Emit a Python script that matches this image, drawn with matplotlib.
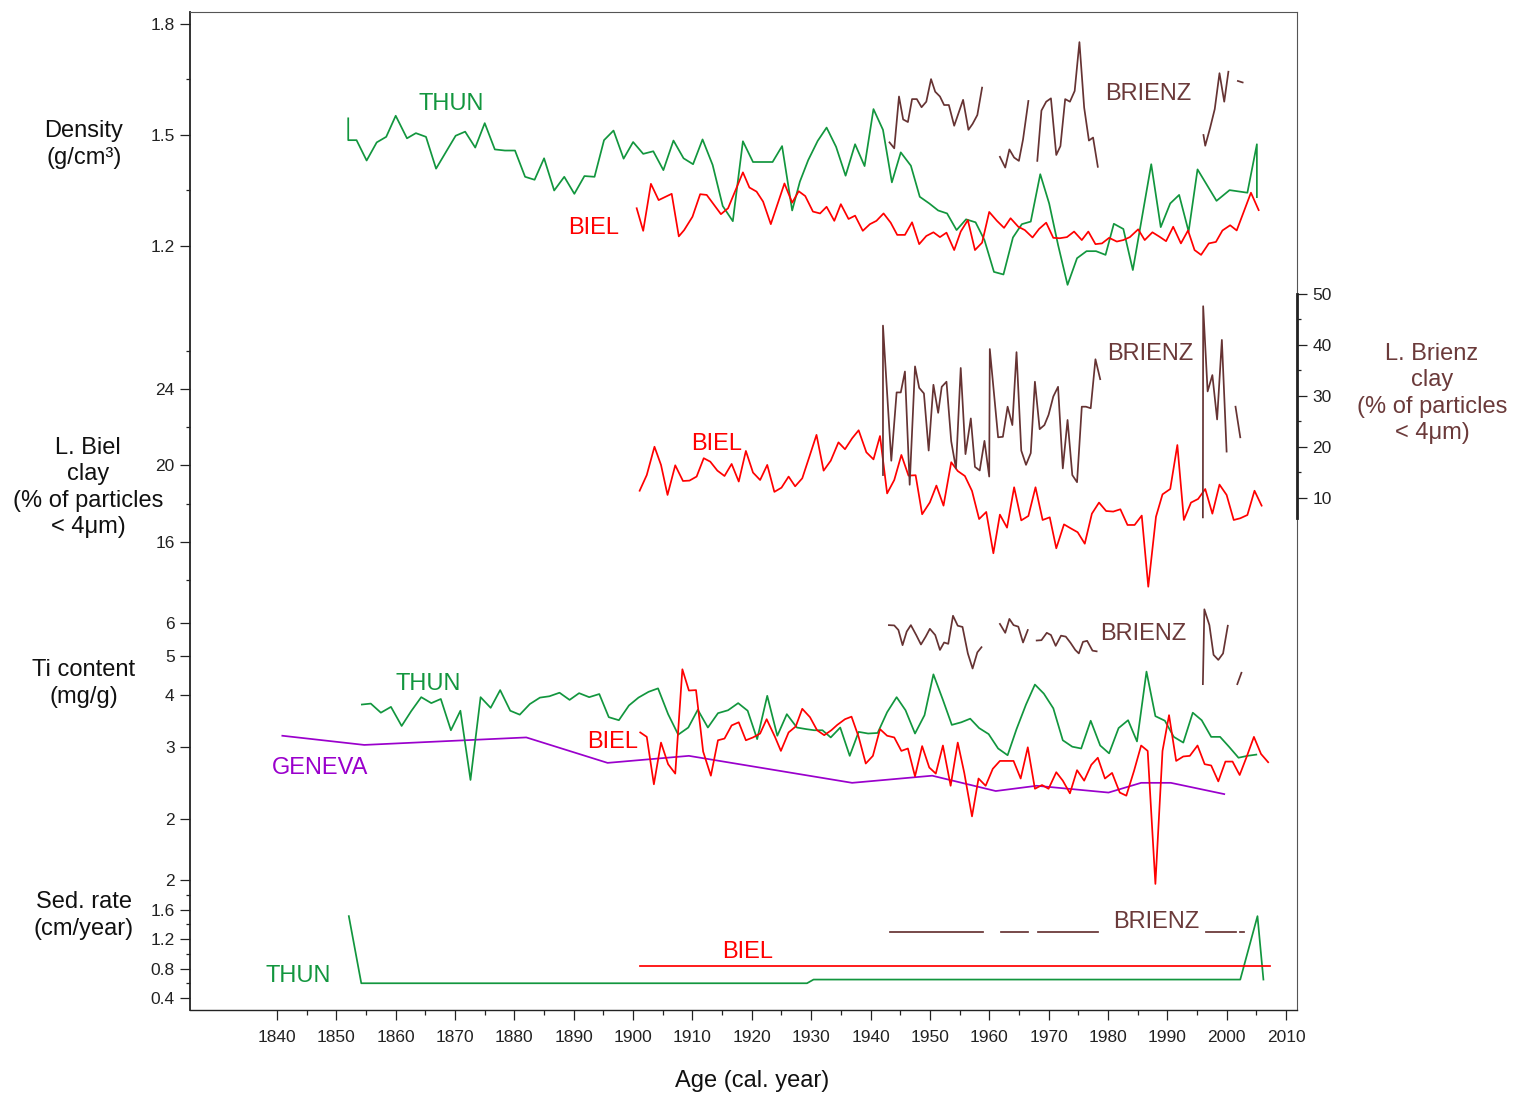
import numpy as np
import matplotlib
matplotlib.use('Agg')
import matplotlib.pyplot as plt
from matplotlib.ticker import FixedLocator, NullLocator

nan = np.nan

# ---------------- DATA ----------------
# Density (g/cm3)
thun_den_yr = [1852.0, 1852.0, 1853.4, 1855.1, 1856.8, 1858.4, 1860.0, 1861.9, 1863.4, 1865.1,
               1866.8, 1868.5, 1870.1, 1871.7, 1873.4, 1875.0, 1876.7, 1878.4, 1880.1, 1881.8,
               1883.4, 1885.0, 1886.7, 1888.4, 1890.1, 1891.8, 1893.5, 1895.1, 1896.7, 1898.4,
               1900.0, 1901.7, 1903.4, 1905.1, 1906.8, 1908.5, 1910.1, 1911.7, 1913.4, 1915.1,
               1916.8, 1918.5, 1920.2, 1921.8, 1923.5, 1925.1, 1926.8, 1928.1, 1929.5, 1931.1,
               1932.6, 1934.2, 1935.8, 1937.4, 1939.0, 1940.5, 1942.1, 1943.6, 1945.1, 1946.8,
               1948.3, 1949.9, 1951.4, 1952.9, 1954.5, 1956.1, 1957.7, 1959.2, 1960.8, 1962.4,
               1964.0, 1965.5, 1967.0, 1968.6, 1970.1, 1971.6, 1973.2, 1974.8, 1976.4, 1978.0,
               1979.6, 1981.0, 1982.6, 1984.2, 1987.3, 1988.9, 1990.5, 1992.0, 1993.6, 1995.1,
               1998.3, 2000.5, 2003.5, 2005.1, 2005.1]
thun_den = [1.545, 1.486, 1.486, 1.431, 1.480, 1.495, 1.552, 1.491, 1.505, 1.495,
            1.409, 1.455, 1.498, 1.509, 1.466, 1.532, 1.461, 1.458, 1.458, 1.387,
            1.379, 1.437, 1.350, 1.387, 1.341, 1.389, 1.387, 1.486, 1.512, 1.436,
            1.481, 1.449, 1.456, 1.405, 1.485, 1.437, 1.421, 1.488, 1.419, 1.308,
            1.267, 1.483, 1.427, 1.427, 1.427, 1.470, 1.296, 1.374, 1.432, 1.484,
            1.520, 1.468, 1.390, 1.475, 1.416, 1.570, 1.514, 1.372, 1.453, 1.417,
            1.333, 1.315, 1.296, 1.288, 1.243, 1.272, 1.264, 1.216, 1.130, 1.123,
            1.223, 1.259, 1.266, 1.394, 1.315, 1.203, 1.095, 1.167, 1.186, 1.186,
            1.176, 1.260, 1.246, 1.135, 1.421, 1.251, 1.315, 1.338, 1.239, 1.407,
            1.322, 1.351, 1.344, 1.475, 1.332]

biel_den_yr = [1900.6, 1901.7, 1903.0, 1904.3, 1906.5, 1907.7, 1908.6, 1910.0, 1911.3, 1912.4,
               1914.8, 1916.0, 1918.5, 1919.6, 1920.8, 1921.9, 1923.2, 1925.5, 1926.8, 1927.9,
               1929.0, 1930.3, 1931.5, 1932.6, 1933.9, 1935.0, 1936.3, 1937.4, 1938.7, 1939.9,
               1941.0, 1942.2, 1943.4, 1944.5, 1945.8, 1947.0, 1948.2, 1949.4, 1950.6, 1951.7,
               1952.8, 1954.1, 1955.2, 1956.4, 1957.6, 1958.8, 1960.0, 1961.3, 1962.5, 1963.6,
               1964.9, 1966.0, 1967.3, 1968.4, 1969.6, 1970.8, 1971.9, 1973.1, 1974.3, 1975.6,
               1976.7, 1977.9, 1979.0, 1980.2, 1981.5, 1982.6, 1983.7, 1985.1, 1986.2, 1987.5,
               1988.7, 1989.8, 1991.0, 1992.3, 1993.5, 1994.6, 1995.7, 1997.0, 1998.2, 1999.3,
               2000.6, 2001.7, 2004.1, 2005.4]
biel_den = [1.302, 1.241, 1.368, 1.324, 1.341, 1.226, 1.243, 1.279, 1.340, 1.338,
            1.286, 1.302, 1.399, 1.358, 1.347, 1.320, 1.259, 1.369, 1.317, 1.348,
            1.335, 1.293, 1.288, 1.306, 1.268, 1.313, 1.273, 1.282, 1.241, 1.259,
            1.268, 1.288, 1.263, 1.230, 1.230, 1.264, 1.205, 1.227, 1.237, 1.224,
            1.236, 1.189, 1.239, 1.270, 1.189, 1.209, 1.292, 1.268, 1.249, 1.275,
            1.252, 1.243, 1.223, 1.246, 1.263, 1.222, 1.221, 1.224, 1.239, 1.216,
            1.239, 1.205, 1.207, 1.222, 1.212, 1.216, 1.224, 1.245, 1.216, 1.237,
            1.225, 1.213, 1.252, 1.207, 1.242, 1.189, 1.176, 1.207, 1.211, 1.242,
            1.256, 1.242, 1.344, 1.297]

brienz_den_yr = [1943.2, 1944.0, 1944.8, 1945.5, 1946.3, 1947.0, 1947.8, 1948.6, 1949.4, 1950.2,
                 1950.9, 1951.7, 1952.4, 1953.2, 1954.1, 1955.6, 1956.5, 1957.2, 1958.0, 1958.8, nan,
                 1961.8, 1962.7, 1963.4, 1964.2, 1965.0, 1965.7, 1966.6, nan,
                 1968.1, 1968.8, 1969.6, 1970.4, 1971.3, 1972.0, 1972.8, 1973.6, 1974.4, 1975.2,
                 1976.0, 1976.8, 1977.5, 1978.3, nan,
                 1996.1, 1996.4, 1997.2, 1998.0, 1998.8, 1999.6, 2000.3, nan,
                 2001.9, 2002.7]
brienz_den = [1.480, 1.464, 1.604, 1.542, 1.535, 1.597, 1.597, 1.575, 1.590, 1.651,
              1.617, 1.604, 1.581, 1.581, 1.525, 1.595, 1.514, 1.530, 1.554, 1.628, nan,
              1.441, 1.412, 1.461, 1.439, 1.430, 1.488, 1.592, nan,
              1.430, 1.566, 1.590, 1.599, 1.446, 1.470, 1.597, 1.590, 1.619, 1.751,
              1.574, 1.485, 1.493, 1.414, nan,
              1.500, 1.471, 1.518, 1.570, 1.667, 1.590, 1.671, nan,
              1.646, 1.642]

# Clay (% of particles < 4 um)
biel_clay_yr = [1901.1, 1902.3, 1903.6, 1904.7, 1905.8, 1907.1, 1908.4, 1909.5, 1910.7, 1911.9,
                1913.0, 1914.2, 1915.4, 1916.6, 1917.8, 1919.0, 1920.2, 1921.4, 1922.6, 1923.8,
                1925.0, 1926.2, 1927.3, 1928.5, 1929.7, 1930.9, 1932.1, 1933.3, 1934.6, 1935.7,
                1936.9, 1938.0, 1939.3, 1940.5, 1941.6, 1942.8, 1944.0, 1945.2, 1946.4, 1947.6,
                1948.7, 1950.0, 1951.1, 1952.3, 1953.6, 1954.7, 1955.9, 1957.1, 1958.3, 1959.5,
                1960.7, 1961.8, 1963.0, 1964.2, 1965.4, 1966.6, 1967.8, 1969.0, 1970.2, 1971.3,
                1972.6, 1973.7, 1974.9, 1976.1, 1977.3, 1978.5, 1979.7, 1980.9, 1982.1, 1983.3,
                1984.5, 1985.7, 1986.8, 1988.1, 1989.2, 1990.5, 1991.7, 1992.8, 1994.0, 1995.2,
                1996.4, 1997.6, 1998.8, 2000.0, 2001.2, 2002.3, 2003.5, 2004.7, 2005.9]
biel_clay = [18.68, 19.50, 20.98, 20.03, 18.46, 20.01, 19.19, 19.21, 19.42, 20.38,
             20.20, 19.73, 19.45, 20.08, 19.16, 20.76, 19.63, 19.24, 20.03, 18.62,
             18.84, 19.42, 18.91, 19.33, 20.46, 21.60, 19.73, 20.25, 21.21, 20.85,
             21.42, 21.84, 20.69, 20.32, 21.54, 18.54, 19.24, 20.55, 19.47, 19.49,
             17.45, 18.07, 18.95, 17.90, 20.17, 19.71, 19.45, 18.67, 17.20, 17.57,
             15.41, 17.43, 16.75, 18.86, 17.13, 17.36, 18.86, 17.15, 17.29, 15.67,
             16.92, 16.72, 16.51, 15.91, 17.48, 18.06, 17.62, 17.59, 17.71, 16.89,
             16.89, 17.38, 13.66, 17.32, 18.49, 18.77, 21.07, 17.15, 18.06, 18.25,
             18.77, 17.48, 19.00, 18.46, 17.15, 17.24, 17.41, 18.68, 17.90]

brienz_clay_yr = [1942.1, 1942.1, 1943.5, 1944.4, 1945.1, 1945.8, 1946.6, 1947.5, 1948.2, 1949.0,
                  1949.8, 1950.6, 1951.4, 1952.0, 1952.8, 1953.6, 1954.4, 1955.2, 1956.0, 1956.9,
                  1957.6, 1958.4, 1959.2, 1960.0, 1960.1, 1961.5, 1962.3, 1963.1, 1963.9, 1964.6,
                  1965.4, 1966.2, 1967.0, 1967.7, 1968.5, 1969.3, 1970.0, 1970.8, 1971.6, 1972.4,
                  1973.2, 1974.0, 1974.8, 1975.6, 1976.3, 1977.1, 1977.9, 1978.7, nan,
                  1996.0, 1996.05, 1996.8, 1997.6, 1998.4, 1999.2, 2000.0, nan,
                  2001.5, 2002.3]
brienz_clay = [14.5, 43.8, 17.3, 30.7, 30.7, 34.8, 12.6, 35.8, 31.6, 30.5,
               19.3, 32.2, 26.7, 31.8, 32.8, 21.1, 15.8, 35.5, 18.6, 25.6,
               16.1, 15.4, 21.2, 14.2, 39.2, 21.9, 22.0, 27.9, 24.3, 38.6,
               19.3, 16.5, 18.8, 32.8, 23.5, 24.3, 26.3, 29.9, 31.8, 15.8,
               25.3, 14.5, 13.1, 27.9, 27.9, 27.6, 37.2, 33.3, nan,
               6.2, 47.6, 30.9, 34.1, 25.4, 41.0, 19.1, nan,
               27.9, 21.9]

# Ti content (mg/g)
thun_ti_yr = [1854.3, 1855.8, 1857.5, 1859.2, 1861.0, 1862.6, 1864.3, 1866.0, 1867.6, 1869.3,
              1870.9, 1872.6, 1874.3, 1876.0, 1877.6, 1879.3, 1880.9, 1882.6, 1884.3, 1885.9,
              1887.6, 1889.3, 1890.9, 1892.6, 1894.3, 1895.9, 1897.6, 1899.3, 1900.9, 1902.6,
              1904.2, 1905.9, 1907.6, 1909.3, 1910.9, 1912.6, 1914.3, 1916.0, 1917.7, 1919.3,
              1920.9, 1922.6, 1924.3, 1925.9, 1927.6, 1929.2, 1930.5, 1931.9, 1933.3, 1934.9,
              1936.5, 1938.0, 1939.6, 1941.2, 1942.8, 1944.4, 1945.9, 1947.5, 1949.1, 1950.6,
              1952.2, 1953.7, 1955.3, 1956.8, 1958.3, 1959.9, 1961.5, 1963.1, 1964.6, 1966.2,
              1967.7, 1969.2, 1970.8, 1972.4, 1974.0, 1975.5, 1977.1, 1978.7, 1980.2, 1981.8,
              1983.4, 1984.9, 1986.5, 1988.0, 1989.6, 1991.1, 1992.7, 1994.3, 1995.8, 1997.4,
              1998.9, 2000.4, 2002.0, 2003.5, 2005.0]
thun_ti = [3.80, 3.82, 3.63, 3.75, 3.37, 3.66, 3.96, 3.83, 3.92, 3.29,
           3.67, 2.49, 3.96, 3.73, 4.12, 3.67, 3.59, 3.81, 3.95, 3.98,
           4.06, 3.90, 4.05, 3.96, 4.03, 3.54, 3.48, 3.78, 3.95, 4.08,
           4.16, 3.60, 3.21, 3.34, 3.69, 3.34, 3.62, 3.68, 3.83, 3.67,
           3.13, 3.99, 3.19, 3.60, 3.34, 3.31, 3.29, 3.29, 3.16, 3.34,
           2.85, 3.26, 3.23, 3.24, 3.64, 3.96, 3.68, 3.23, 3.58, 4.50,
           3.90, 3.39, 3.44, 3.51, 3.33, 3.22, 2.97, 2.86, 3.31, 3.80,
           4.25, 4.04, 3.72, 3.11, 3.00, 2.97, 3.47, 3.02, 2.89, 3.33,
           3.48, 3.09, 4.57, 3.56, 3.47, 3.17, 3.07, 3.63, 3.48, 3.17,
           3.17, 3.00, 2.82, 2.85, 2.87]

biel_ti_yr = [1901.2, 1902.3, 1903.5, 1904.7, 1905.9, 1907.1, 1908.3, 1909.4, 1910.6, 1911.8,
              1913.1, 1914.3, 1915.4, 1916.6, 1917.8, 1919.0, 1920.2, 1921.4, 1922.5, 1923.9,
              1924.9, 1926.2, 1927.4, 1928.5, 1929.8, 1931.0, 1932.2, 1933.4, 1934.4, 1935.7,
              1936.8, 1938.0, 1939.2, 1940.4, 1941.6, 1942.8, 1944.0, 1945.2, 1946.3, 1947.5,
              1948.7, 1949.9, 1951.0, 1952.2, 1953.5, 1954.7, 1955.8, 1957.1, 1958.2, 1959.4,
              1960.6, 1961.8, 1963.0, 1964.1, 1965.3, 1966.5, 1967.7, 1968.9, 1970.0, 1971.3,
              1972.4, 1973.6, 1974.8, 1976.0, 1977.2, 1978.3, 1979.5, 1980.7, 1982.0, 1983.1,
              1984.4, 1985.6, 1986.7, 1988.0, 1989.2, 1990.3, 1991.5, 1992.7, 1993.8, 1995.1,
              1996.3, 1997.4, 1998.6, 1999.8, 2001.0, 2002.2, 2003.4, 2004.6, 2005.8, 2007.0]
biel_ti = [3.25, 3.17, 2.43, 3.07, 2.72, 2.58, 4.63, 4.11, 4.12, 2.92,
           2.55, 3.11, 3.14, 3.38, 3.44, 3.11, 3.16, 3.23, 3.50, 3.17,
           2.93, 3.25, 3.36, 3.71, 3.54, 3.29, 3.20, 3.29, 3.39, 3.50,
           3.55, 3.17, 2.73, 2.85, 3.31, 3.19, 3.16, 2.93, 2.97, 2.54,
           3.01, 2.67, 2.58, 3.02, 2.41, 3.07, 2.59, 2.03, 2.51, 2.41,
           2.65, 2.77, 2.77, 2.77, 2.51, 2.99, 2.37, 2.42, 2.37, 2.60,
           2.48, 2.31, 2.63, 2.48, 2.71, 2.82, 2.51, 2.59, 2.32, 2.28,
           2.62, 3.02, 2.93, 1.39, 2.93, 3.58, 2.77, 2.84, 2.85, 3.02,
           2.72, 2.70, 2.47, 2.76, 2.76, 2.56, 2.84, 3.17, 2.88, 2.75]

geneva_ti_yr = [1840.9, 1854.7, 1882.0, 1895.7, 1909.4, 1936.9, 1950.4, 1961.1, 1968.0,
                1980.1, 1985.6, 1990.6, 1999.6]
geneva_ti = [3.19, 3.03, 3.16, 2.74, 2.85, 2.45, 2.55, 2.34, 2.41, 2.32, 2.45, 2.45, 2.30]

brienz_ti_yr = [1943.1, 1944.0, 1944.7, 1945.4, 1946.1, 1946.8, 1947.7, 1948.5, 1949.3, 1950.0,
                1950.9, 1951.7, 1952.4, 1953.1, 1953.9, 1954.7, 1955.5, 1956.4, 1957.2, 1958.0,
                1958.7, nan,
                1961.8, 1962.7, 1963.4, 1964.1, 1964.9, 1965.7, 1966.5, nan,
                1968.0, 1968.8, 1969.7, 1970.4, 1971.2, 1972.1, 1972.9, 1973.7, 1974.5, 1975.1,
                1975.8, 1976.5, 1977.4, 1978.1, nan,
                1996.0, 1996.25, 1997.1, 1997.8, 1998.6, 1999.4, 2000.2, nan,
                2001.8, 2002.5]
brienz_ti = [5.93, 5.92, 5.77, 5.30, 5.72, 5.93, 5.61, 5.32, 5.56, 5.81,
             5.61, 5.16, 5.38, 5.34, 6.25, 5.91, 5.87, 5.06, 4.65, 5.09,
             5.24, nan,
             5.97, 5.68, 6.14, 5.93, 5.88, 5.38, 5.77, nan,
             5.44, 5.45, 5.68, 5.61, 5.28, 5.59, 5.56, 5.37, 5.16, 5.06,
             5.40, 5.43, 5.14, 5.12, nan,
             4.26, 6.48, 5.93, 5.02, 4.88, 5.06, 5.91, nan,
             4.26, 4.54]

# Sedimentation rate (cm/year)
thun_sed_yr = [1852.1, 1854.2, 1929.3, 1930.4, 2002.3, 2005.2, 2006.2]
thun_sed = [1.51, 0.60, 0.60, 0.65, 0.65, 1.51, 0.65]
biel_sed_yr = [1901.1, 2007.3]
biel_sed = [0.84, 0.84]
brienz_sed_yr = [1943.3, 1958.9, nan, 1962.0, 1966.6, nan, 1968.3, 1978.4, nan,
                 1996.5, 2001.6, nan, 2002.3, 2002.9]
brienz_sed = [1.29, 1.29, nan, 1.29, 1.29, nan, 1.29, 1.29, nan,
              1.29, 1.29, nan, 1.29, 1.29]

year_ticks = list(range(1840, 2011, 10))
year_minor = list(range(1845, 2010, 10))

# ---------------- STYLE ----------------
plt.rcParams['font.family'] = ['Liberation Sans', 'DejaVu Sans']
GREEN = '#12963e'
RED = '#ff0000'
BROWN = '#663333'
BROWN_T = '#6b3a3a'
PURPLE = '#9a00cc'
LW = 1.25
TICKFS = 12.5
LABFS = 17
LINE_H = 26.5   # px between text lines

W, H = 1530, 1095
L, R, T, B = 190, 1297, 12, 1010
rect = [L / W, 1 - B / H, (R - L) / W, (B - T) / H]
XLIM = (1825.34, 2011.86)


def fx(x, y):
    return x / W, 1 - y / H


fig = plt.figure(figsize=(W / 100, H / 100), dpi=100)
fig.patch.set_facecolor('white')

ax0 = fig.add_axes(rect)
ax0.set_xlim(*XLIM)
ax0.set_ylim(0, 1)
ax0.set_yticks([])
ax0.xaxis.set_major_locator(FixedLocator(year_ticks))
ax0.xaxis.set_minor_locator(FixedLocator(year_minor))
ax0.set_xticklabels([str(y) for y in year_ticks])
ax0.tick_params(axis='x', which='major', direction='out', length=7, width=0.9,
                labelsize=TICKFS, pad=7.5, colors='#222222')
ax0.tick_params(axis='x', which='minor', direction='out', length=3.5, width=0.9,
                colors='#222222')
ax0.spines['left'].set_linewidth(1.3)
ax0.spines['left'].set_color('#222222')
ax0.spines['bottom'].set_linewidth(1.0)
ax0.spines['bottom'].set_color('#222222')
for s in ('top', 'right'):
    ax0.spines[s].set_linewidth(0.8)
    ax0.spines[s].set_color('#555555')


def panel(ylim, major, minor, labels, yscale='linear', side='left'):
    a = fig.add_axes(rect, facecolor='none')
    a.set_yscale(yscale)
    a.set_xlim(*XLIM)
    a.set_ylim(*ylim)
    for s in a.spines.values():
        s.set_visible(False)
    a.xaxis.set_visible(False)
    if side == 'right':
        a.yaxis.tick_right()
    a.yaxis.set_major_locator(FixedLocator(major))
    if minor:
        a.yaxis.set_minor_locator(FixedLocator(minor))
    else:
        a.yaxis.set_minor_locator(NullLocator())
    a.set_yticklabels(labels)
    a.tick_params(axis='y', which='major', direction='out', length=7.5, width=0.9,
                  labelsize=TICKFS, pad=3.5, colors='#222222')
    a.tick_params(axis='y', which='minor', direction='out', length=3, width=0.9,
                  colors='#222222')
    return a


# Density panel
ax_den = panel((-0.8649, 1.8324), [1.2, 1.5, 1.8], [1.35, 1.65], ['1.2', '1.5', '1.8'])
ax_den.plot(thun_den_yr, thun_den, color=GREEN, lw=LW)
ax_den.plot(biel_den_yr, biel_den, color=RED, lw=LW)
ax_den.plot(brienz_den_yr, brienz_den, color=BROWN, lw=LW)

# Biel clay panel (left axis)
ax_bc = panel((-8.47, 43.71), [16, 20, 24], [14, 18, 22, 26], ['16', '20', '24'])
ax_bc.plot(biel_clay_yr, biel_clay, color=RED, lw=LW)

# Brienz clay panel (right axis)
ax_rc = panel((-90.39, 105.29), [10, 20, 30, 40, 50], [15, 25, 35, 45],
              ['10', '20', '30', '40', '50'], side='right')
ax_rc.spines['right'].set_visible(True)
ax_rc.spines['right'].set_bounds(6, 50)
ax_rc.spines['right'].set_linewidth(2.0)
ax_rc.spines['right'].set_color('#222222')
ax_rc.plot(brienz_clay_yr, brienz_clay, color=BROWN, lw=LW)

# Ti panel (log)
ax_ti = panel((0.6858, 184.3), [2, 3, 4, 5, 6], None, ['2', '3', '4', '5', '6'], yscale='log')
ax_ti.plot(geneva_ti_yr, geneva_ti, color=PURPLE, lw=LW)
ax_ti.plot(thun_ti_yr, thun_ti, color=GREEN, lw=LW)
ax_ti.plot(biel_ti_yr, biel_ti, color=RED, lw=LW)
ax_ti.plot(brienz_ti_yr, brienz_ti, color=BROWN, lw=LW)

# Sedimentation rate panel
ax_sed = panel((0.2373, 13.77), [0.4, 0.8, 1.2, 1.6, 2.0], [0.6, 1.0, 1.4, 1.8],
               ['0.4', '0.8', '1.2', '1.6', '2'])
ax_sed.plot(thun_sed_yr, thun_sed, color=GREEN, lw=LW)
ax_sed.plot(biel_sed_yr, biel_sed, color=RED, lw=LW)
ax_sed.plot(brienz_sed_yr, brienz_sed, color=BROWN, lw=LW)

# ---------------- TEXT ----------------
CAP_HALF = 8.5  # half cap-height in px, to center capitals on the given y


def label(x, y, s, color='#111111', size=LABFS):
    fig.text(*fx(x, y + CAP_HALF), s, color=color, fontsize=size,
             ha='center', va='baseline')


def block(x, y0, lines, color='#111111'):
    for i, s in enumerate(lines):
        label(x, y0 + i * LINE_H, s, color)


block(84, 129, ['Density', '(g/cm³)'])
block(88, 445, ['L. Biel', 'clay', '(% of particles', '< 4μm)'])
block(84, 668, ['Ti content', '(mg/g)'])
block(84, 900, ['Sed. rate', '(cm/year)'])
block(1432, 351, ['L. Brienz', 'clay', '(% of particles', '< 4μm)'], BROWN_T)
label(752, 1079, 'Age (cal. year)')

label(451, 102, 'THUN', GREEN)
label(594, 226, 'BIEL', RED)
label(1148, 91, 'BRIENZ', BROWN_T)
label(1150, 351, 'BRIENZ', BROWN_T)
label(717, 441, 'BIEL', RED)
label(428, 681, 'THUN', GREEN)
label(613, 739, 'BIEL', RED)
label(320, 765, 'GENEVA', PURPLE)
label(1143, 632, 'BRIENZ', BROWN_T)
label(298, 973, 'THUN', GREEN)
label(748, 949, 'BIEL', RED)
label(1156, 920, 'BRIENZ', BROWN_T)

fig.savefig('out.png', dpi=100, facecolor='white')
